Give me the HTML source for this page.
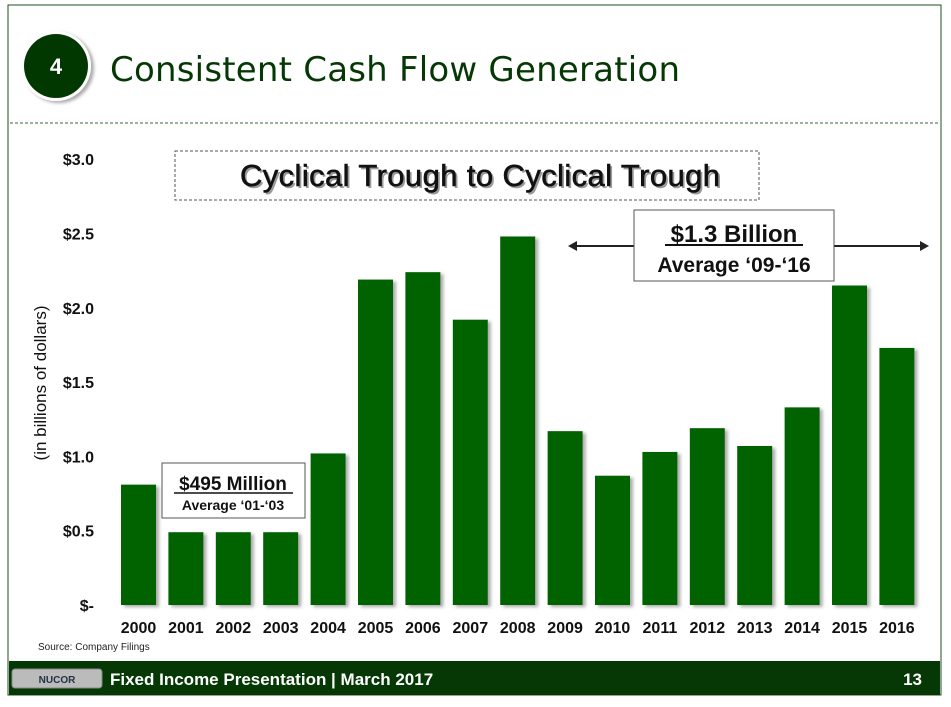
<!DOCTYPE html>
<html><head><meta charset="utf-8"><style>
body{margin:0;width:951px;height:702px;background:#fff;overflow:hidden;font-family:"Liberation Sans",sans-serif}
</style></head><body>
<svg width="951" height="702" xmlns="http://www.w3.org/2000/svg">
<defs><filter id="sh" x="-20%" y="-20%" width="150%" height="150%"><feDropShadow dx="3" dy="2" stdDeviation="1.5" flood-color="#888" flood-opacity="0.7"/></filter></defs>
<rect x="8" y="5" width="933" height="690" fill="#fff" stroke="#1f4d1f" stroke-width="1"/>
<g filter="url(#sh)"><circle cx="56" cy="66" r="35" fill="#fff"/><circle cx="56" cy="66" r="32" fill="#053805"/></g>
<text x="56" y="74" text-anchor="middle" font-size="22" font-weight="bold" fill="#fff">4</text>
<text x="110" y="81" font-family="'DejaVu Sans',sans-serif" font-size="34" fill="#053805" textLength="570">Consistent Cash Flow Generation</text>
<line x1="10" y1="123" x2="940" y2="123" stroke="#7a9a7a" stroke-width="1.5" stroke-dasharray="3,2"/>
<rect x="175" y="151" width="584" height="49" fill="#fff" stroke="#555" stroke-dasharray="3,2"/>
<text x="242" y="188" font-size="31" fill="#999" textLength="480">Cyclical Trough to Cyclical Trough</text>
<text x="240" y="186" font-size="31" fill="#111" stroke="#111" stroke-width="0.6" textLength="480">Cyclical Trough to Cyclical Trough</text>
<text transform="translate(46,383) rotate(-90)" text-anchor="middle" font-size="17" fill="#111">(in billions of dollars)</text>
<g id="yticks"></g>
<g id="bars"></g>
<g id="xlabels"></g>
<line x1="574" y1="246" x2="923" y2="246" stroke="#222" stroke-width="2"/>
<path d="M568,246 l9,-5 v10z M929,246 l-9,-5 v10z" fill="#222"/>
<rect x="634" y="210" width="200" height="71" fill="#fff" stroke="#555"/>
<text x="734" y="242" text-anchor="middle" font-size="24" font-weight="bold" fill="#111">$1.3 Billion</text>
<line x1="665" y1="245" x2="803" y2="245" stroke="#111" stroke-width="2"/>
<text x="734" y="272" text-anchor="middle" font-size="21" font-weight="bold" fill="#111">Average ‘09-‘16</text>
<rect x="162" y="463" width="143" height="55" fill="#fff" stroke="#555"/>
<text x="233" y="490" text-anchor="middle" font-size="19" font-weight="bold" fill="#111">$495 Million</text>
<line x1="174" y1="493" x2="293" y2="493" stroke="#111" stroke-width="1.5"/>
<text x="233" y="510" text-anchor="middle" font-size="14" font-weight="bold" fill="#111">Average ‘01-‘03</text>
<text x="38" y="650" font-size="10" fill="#222">Source: Company Filings</text>
<rect x="9" y="661" width="931" height="34" fill="#053805"/>
<rect x="12" y="669" width="90" height="19" rx="3" fill="#bbb" stroke="#888"/>
<text x="57" y="683" text-anchor="middle" font-size="10" font-weight="bold" fill="#234">NUCOR</text>
<text x="110" y="685" font-size="17" font-weight="bold" fill="#fff">Fixed Income Presentation | March 2017</text>
<text x="922" y="685" text-anchor="end" font-size="17" font-weight="bold" fill="#fff">13</text>
</svg>
<script>
const categories=["2000","2001","2002","2003","2004","2005","2006","2007","2008","2009","2010","2011","2012","2013","2014","2015","2016"];
const cashFlow=[0.81,0.49,0.49,0.49,1.02,2.19,2.24,1.92,2.48,1.17,0.87,1.03,1.19,1.07,1.33,2.15,1.73];
const tickValues=[0,0.5,1.0,1.5,2.0,2.5,3.0];
const tickLabels=["$-","$0.5","$1.0","$1.5","$2.0","$2.5","$3.0"];
const NS="http://www.w3.org/2000/svg";
const y=v=>605-v*148.6;
const xc=i=>138.5+i*47.4;
const bw=35;
const tg=document.getElementById('yticks'),bg=document.getElementById('bars'),xg=document.getElementById('xlabels');
tickValues.forEach((v,i)=>{const t=document.createElementNS(NS,'text');t.setAttribute('x',94);t.setAttribute('y',y(v)+6);t.setAttribute('text-anchor','end');t.setAttribute('font-size','16');t.setAttribute('font-weight','bold');t.setAttribute('fill','#111');t.textContent=tickLabels[i];


tg.appendChild(t);});
categories.forEach((c,i)=>{const r=document.createElementNS(NS,'rect');r.setAttribute('x',xc(i)-bw/2);r.setAttribute('y',y(cashFlow[i]));r.setAttribute('width',bw);r.setAttribute('height',605-y(cashFlow[i]));r.setAttribute('fill','#056405');r.setAttribute('filter','url(#sh)');


bg.appendChild(r);
const t=document.createElementNS(NS,'text');t.setAttribute('x',xc(i));t.setAttribute('y',633);t.setAttribute('text-anchor','middle');t.setAttribute('font-size','16');t.setAttribute('font-weight','bold');t.setAttribute('fill','#111');t.textContent=c;


xg.appendChild(t);});
</script>
</body></html>
